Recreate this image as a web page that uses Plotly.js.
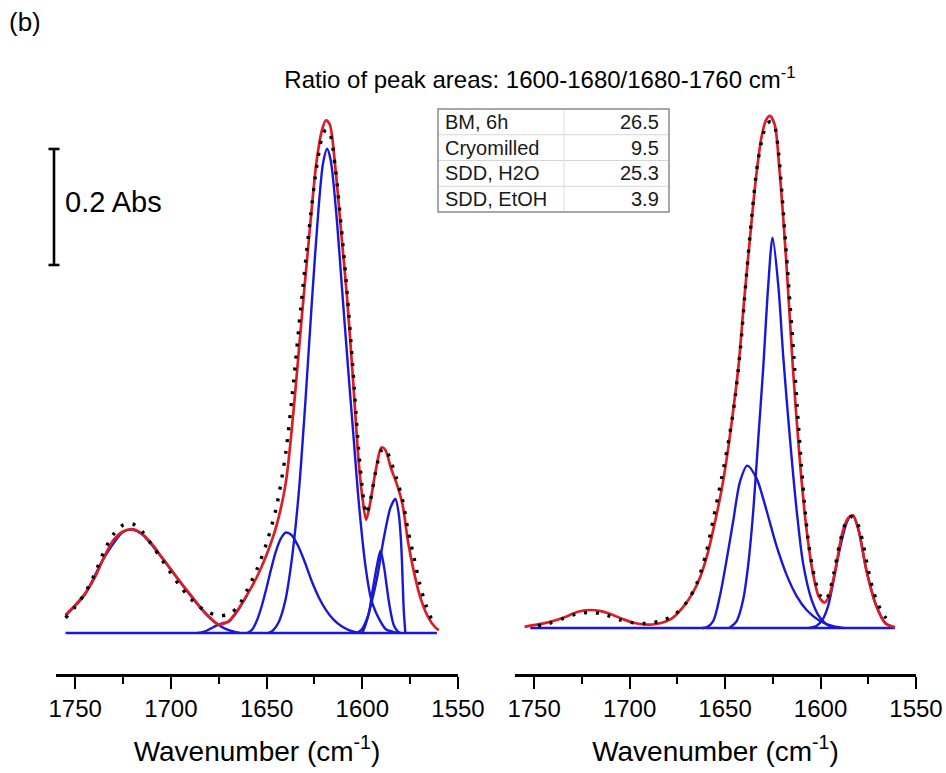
<!DOCTYPE html>
<html>
<head>
<meta charset="utf-8">
<script src="https://cdn.plot.ly/plotly-3.0.1.min.js"></script>
<style>html,body{margin:0;padding:0;background:#fff;}#chart{width:946px;height:773px;}</style>
</head>
<body>
<div id="chart"></div>
<script>
// ---------- DATA (wavenumber in cm-1, absorbance in Abs) ----------
// Left panel
const leftFitWn = [1755,1750,1745,1740,1735,1730,1725,1720,1715,1710,1705,1700,1695,1690,1685,1680,1675,1670,1665,1660,1655,1650,1645,1640,1636,1632,1628,1624,1621,1619,1617,1614,1611,1608,1605,1602,1600,1598,1596,1593,1590,1588,1585,1582,1579,1576,1573,1570,1566,1562,1560];
const leftFit   = [0.031,0.048,0.067,0.094,0.130,0.160,0.175,0.179,0.171,0.154,0.132,0.110,0.088,0.067,0.046,0.028,0.015,0.020,0.040,0.067,0.097,0.135,0.183,0.258,0.380,0.530,0.675,0.810,0.868,0.884,0.877,0.800,0.690,0.580,0.445,0.300,0.235,0.195,0.222,0.280,0.320,0.316,0.284,0.257,0.222,0.155,0.105,0.065,0.030,0.010,0.005];
const leftDataWn = [1755,1750,1745,1740,1735,1730,1725,1720,1715,1710,1705,1700,1695,1690,1685,1680,1675,1670,1665,1660,1655,1650,1645,1640,1636,1632,1628,1624,1621,1619,1617,1614,1611,1608,1605,1602,1600,1598,1596,1593,1590,1588,1585,1582,1579,1576,1573,1570,1567,1564];
const leftData   = [0.026,0.045,0.068,0.100,0.140,0.170,0.186,0.188,0.175,0.152,0.128,0.103,0.080,0.060,0.045,0.035,0.030,0.032,0.045,0.075,0.110,0.155,0.215,0.310,0.430,0.565,0.690,0.800,0.855,0.868,0.862,0.800,0.700,0.590,0.460,0.320,0.250,0.205,0.225,0.278,0.315,0.318,0.295,0.265,0.230,0.175,0.130,0.085,0.050,0.025];
const leftBaseWn = [1755,1561];
const leftBase   = [0,0];
const leftP1720Wn = [1755,1745,1735,1725,1720,1715,1705,1695,1685,1680,1676,1672,1668,1664];
const leftP1720   = [0.030,0.066,0.129,0.174,0.178,0.170,0.131,0.087,0.045,0.027,0.016,0.008,0.003,0.000];
const leftP1665Wn = [1686,1682,1679,1676,1673,1670,1665,1660];
const leftP1665   = [0.000,0.003,0.008,0.013,0.017,0.019,0.039,0.066];
const leftP1640Wn = [1660,1657.5,1655,1652.5,1650,1647.5,1645,1642.5,1640,1637,1633.5,1630,1626.5,1622.5,1619,1615,1611,1607,1603,1599];
const leftP1640   = [0.000,0.006,0.022,0.047,0.078,0.112,0.142,0.163,0.173,0.169,0.150,0.122,0.090,0.060,0.040,0.023,0.012,0.005,0.001,0.000];
const leftP1618Wn = [1649,1646.5,1643.5,1640.2,1636.7,1633.2,1629.8,1626.3,1622.8,1620.5,1618.4,1616.5,1613.5,1610.5,1607.5,1604.5,1601.9,1598.4,1595.5,1593.1,1590,1587.9,1584,1581];
const leftP1618   = [0.000,0.005,0.020,0.056,0.130,0.241,0.395,0.573,0.734,0.810,0.835,0.815,0.720,0.590,0.460,0.335,0.228,0.117,0.060,0.037,0.017,0.007,0.002,0.000];
const leftP1590Wn = [1600,1598.4,1596.5,1594.9,1592.3,1590.5,1588.8,1587.2,1586.2,1584.5,1583.5,1581.5,1580];
const leftP1590   = [0.000,0.013,0.035,0.068,0.117,0.142,0.117,0.080,0.056,0.025,0.013,0.003,0.000];
const leftP1582Wn = [1603,1600.1,1597.5,1594.9,1592,1589.6,1587.5,1585.3,1582.7,1580.9,1579.8,1579.2,1578.6,1578.3,1577.5];
const leftP1582   = [0.000,0.007,0.025,0.056,0.100,0.148,0.185,0.216,0.231,0.204,0.160,0.117,0.060,0.037,0.000];

// Right panel
const rightFitWn = [1755,1752,1745,1740,1733,1727,1721,1715,1710,1704,1698,1692,1688,1683,1678,1672,1667,1663,1659,1656,1652,1649,1646,1643,1640,1637,1634,1631,1628.5,1626.5,1624,1621.5,1618,1614.5,1611,1607.5,1604,1601,1598,1595.5,1592,1588.5,1585.5,1583,1580,1576,1571,1566,1561];
const rightFit   = [0.002,0.004,0.008,0.012,0.020,0.028,0.031,0.029,0.024,0.016,0.009,0.006,0.006,0.009,0.016,0.036,0.060,0.088,0.130,0.172,0.235,0.295,0.368,0.450,0.565,0.670,0.770,0.845,0.876,0.883,0.868,0.790,0.635,0.450,0.295,0.175,0.095,0.055,0.044,0.055,0.105,0.165,0.190,0.194,0.168,0.100,0.040,0.008,0.001];
const rightDataWn = [1748,1742,1735,1728,1720,1712,1705,1698,1690,1682,1676,1670,1665,1660,1656,1652,1648,1645,1642,1639,1636,1633,1630,1628,1626,1624,1622,1620,1618,1616,1614,1612,1610,1608,1606,1603,1600,1598,1596,1593,1590,1587,1584,1581,1578,1575,1572,1568,1564];
const rightData   = [0.004,0.008,0.016,0.024,0.027,0.022,0.014,0.009,0.008,0.014,0.024,0.045,0.075,0.128,0.190,0.255,0.325,0.390,0.480,0.600,0.710,0.800,0.852,0.870,0.873,0.865,0.820,0.740,0.650,0.560,0.470,0.370,0.280,0.200,0.140,0.085,0.055,0.048,0.055,0.095,0.145,0.180,0.192,0.183,0.150,0.100,0.060,0.028,0.010];
const rightBaseWn = [1752,1561];
const rightBase   = [0,0];
const rightP1638Wn = [1662,1659.7,1656.2,1652.7,1649.2,1645.7,1642.2,1638.4,1633.5,1628.3,1623,1617.8,1612.5,1607.3,1600.3,1593.4,1588];
const rightP1638   = [0.000,0.001,0.012,0.055,0.117,0.185,0.252,0.280,0.258,0.203,0.141,0.092,0.055,0.031,0.012,0.003,0.000];
const rightP1625Wn = [1648,1647.4,1643.9,1640.5,1637.8,1635.2,1632.6,1630,1627.4,1625.1,1622.1,1619.5,1616,1612.5,1609.1,1604.7,1600.3,1595.1,1590];
const rightP1625   = [0.000,0.001,0.012,0.049,0.111,0.203,0.326,0.449,0.590,0.673,0.590,0.467,0.326,0.203,0.111,0.049,0.018,0.003,0.000];
const rightP1583Wn = [1606,1602,1599,1596,1593,1590,1587,1585,1583,1580,1576,1571,1566,1561];
const rightP1583   = [0.000,0.004,0.014,0.038,0.085,0.135,0.175,0.190,0.194,0.168,0.100,0.040,0.008,0.001];

// Axis ticks and annotation texts
const xRange = [1760, 1550];
const majorTickStep = 50;
const minorTickStep = 25;
const scaleBarAbs = 0.2;
const tableLabels = ["BM, 6h", "Cryomilled", "SDD, H2O", "SDD, EtOH"];
const tableValues = ["26.5", "9.5", "25.3", "3.9"];

// ---------- STYLES ----------
const FONT = "Arial, 'Liberation Sans', sans-serif";
const RED = "rgb(222,28,36)";
const BLUE = "rgb(24,24,214)";

function line(x, y, color, width, xa, ya, dash) {
  return {x: x, y: y, type: "scatter", mode: "lines", xaxis: xa, yaxis: ya,
    line: {color: color, width: width, shape: "spline", smoothing: 0.8, dash: dash || "solid"},
    hoverinfo: "skip", showlegend: false};
}

const BW = 2.4;
const traces = [
  // left blue components
  line(leftBaseWn, leftBase, BLUE, BW, "x", "y"),
  line(leftP1720Wn, leftP1720, BLUE, BW, "x", "y"),
  line(leftP1665Wn, leftP1665, BLUE, BW, "x", "y"),
  line(leftP1640Wn, leftP1640, BLUE, BW, "x", "y"),
  line(leftP1618Wn, leftP1618, BLUE, BW, "x", "y"),
  line(leftP1590Wn, leftP1590, BLUE, BW, "x", "y"),
  line(leftP1582Wn, leftP1582, BLUE, BW, "x", "y"),
  // right blue components
  line(rightBaseWn, rightBase, BLUE, BW, "x2", "y2"),
  line(rightP1638Wn, rightP1638, BLUE, BW, "x2", "y2"),
  line(rightP1625Wn, rightP1625, BLUE, BW, "x2", "y2"),
  line(rightP1583Wn, rightP1583, BLUE, BW, "x2", "y2"),
  // fits
  line(leftFitWn, leftFit, RED, 2.7, "x", "y"),
  line(rightFitWn, rightFit, RED, 2.7, "x2", "y2"),
  // measured data (dotted)
  line(leftDataWn, leftData, "black", 3.4, "x", "y", "3px,9px"),
  line(rightDataWn, rightData, "black", 3.4, "x2", "y2", "3px,9px")
];

// ---------- LAYOUT ----------
const W = 946, H = 773;
const mL = 56, mR = 30, mT = 100, mB = 99;
const pw = W - mL - mR, ph = H - mT - mB;
const px = v => (v - mL) / pw;          // pixel x -> paper
const py = v => (H - mB - v) / ph;      // pixel y -> paper

function xAxis(domain, anchor) {
  return {
    domain: domain, anchor: anchor, range: xRange, autorange: false,
    showline: true, linecolor: "black", linewidth: 2.6, mirror: false,
    ticks: "outside", ticklen: 12, tickwidth: 2, tickcolor: "black",
    tick0: 1550, dtick: majorTickStep, showgrid: false, zeroline: false,
    minor: {dtick: minorTickStep, tick0: 1550, ticks: "outside", ticklen: 7, tickwidth: 2, tickcolor: "black", showgrid: false},
    tickfont: {family: FONT, size: 24, color: "black"},
    title: {text: "Wavenumber (cm<sup>-1</sup>)", font: {family: FONT, size: 28, color: "black"}, standoff: 20},
    fixedrange: true
  };
}

const shapes = [];
const annotations = [];

// scale bar (0.2 Abs)
const barBottom = 0.6345, barTop = barBottom + scaleBarAbs;
const barX = px(54), capHalf = 5.5 / pw;
shapes.push({type: "line", xref: "paper", yref: "y", x0: barX, x1: barX, y0: barBottom, y1: barTop, line: {color: "black", width: 2.6}});
shapes.push({type: "line", xref: "paper", yref: "y", x0: barX - capHalf, x1: barX + capHalf, y0: barBottom, y1: barBottom, line: {color: "black", width: 2.6}});
shapes.push({type: "line", xref: "paper", yref: "y", x0: barX - capHalf, x1: barX + capHalf, y0: barTop, y1: barTop, line: {color: "black", width: 2.6}});
annotations.push({xref: "paper", yref: "y", x: px(63), y: barBottom + scaleBarAbs * 0.54, xanchor: "left", yanchor: "middle",
  text: scaleBarAbs + " Abs", showarrow: false, font: {family: FONT, size: 29, color: "black"}});

// table
const tL = 438, tR = 669, tTop = 109, rowH = 25.75, tDiv = 564;
const nRows = tableLabels.length;
shapes.push({type: "rect", xref: "paper", yref: "paper", x0: px(tL), x1: px(tR), y0: py(tTop), y1: py(tTop + nRows * rowH),
  line: {color: "#8a8a8a", width: 1.5}, fillcolor: "white", layer: "below"});
for (let i = 1; i < nRows; i++) {
  shapes.push({type: "line", xref: "paper", yref: "paper", x0: px(tL + 1), x1: px(tR - 1), y0: py(tTop + i * rowH), y1: py(tTop + i * rowH),
    line: {color: "#d6d6d6", width: 1}});
}
shapes.push({type: "line", xref: "paper", yref: "paper", x0: px(tDiv), x1: px(tDiv), y0: py(tTop + 1), y1: py(tTop + nRows * rowH - 1),
  line: {color: "#dcdcdc", width: 1}});
for (let i = 0; i < nRows; i++) {
  const yc = py(tTop + (i + 0.5) * rowH);
  annotations.push({xref: "paper", yref: "paper", x: px(443), y: yc, xanchor: "left", yanchor: "middle",
    text: tableLabels[i], showarrow: false, font: {family: FONT, size: 20, color: "#1a1a1a"}});
  annotations.push({xref: "paper", yref: "paper", x: px(661), y: yc, xanchor: "right", yanchor: "middle",
    text: tableValues[i], showarrow: false, font: {family: FONT, size: 20, color: "#1a1a1a"}});
}

// panel label
annotations.push({xref: "paper", yref: "paper", x: px(7), y: py(22), xanchor: "left", yanchor: "middle",
  text: "(b)", showarrow: false, font: {family: FONT, size: 26, color: "black"}});

const layout = {
  width: W, height: H,
  margin: {l: mL, r: mR, t: mT, b: mB, pad: 0},
  paper_bgcolor: "white", plot_bgcolor: "rgba(0,0,0,0)",
  showlegend: false,
  title: {text: "Ratio of peak areas: 1600-1680/1680-1760 cm<sup>-1</sup>",
    xref: "container", yref: "container", x: 540 / W, y: (H - 80) / H, xanchor: "center", yanchor: "middle",
    font: {family: FONT, size: 24, color: "black"}},
  xaxis: xAxis([0, px(458)], "y"),
  xaxis2: xAxis([px(515), 1], "y2"),
  yaxis: {domain: [0, 1], anchor: "x", range: [-(674 - 633) / 580, (633 - 100) / 580], visible: false, fixedrange: true},
  yaxis2: {domain: [0, 1], anchor: "x2", range: [-(674 - 628) / 580, (628 - 100) / 580], visible: false, fixedrange: true},
  shapes: shapes,
  annotations: annotations
};

Plotly.newPlot("chart", traces, layout, {displayModeBar: false, staticPlot: true});
</script>
</body>
</html>
